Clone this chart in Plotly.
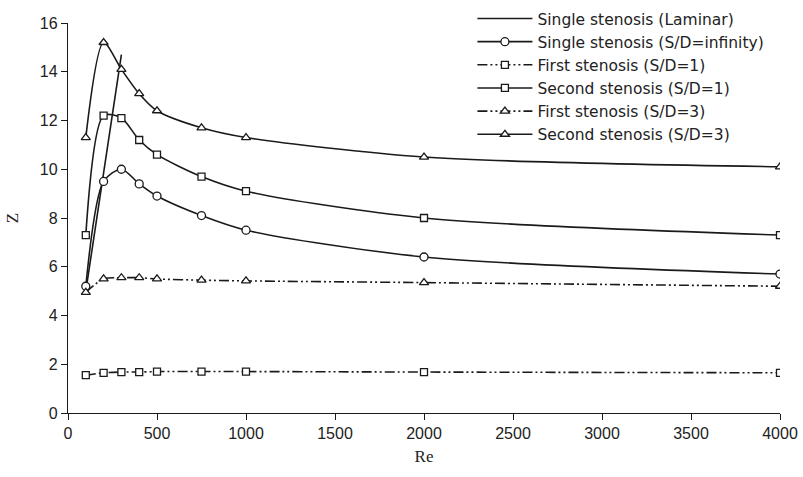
import plotly.graph_objects as go

# Reynolds numbers at which Z was evaluated
re_vals = [100, 200, 300, 400, 500, 750, 1000, 2000, 4000]

# Laminar single stenosis (only low Re)
re_laminar = [100, 200, 300]
z_laminar = [5.0, 9.8, 14.7]

z_single_inf = [5.2, 9.5, 10.0, 9.4, 8.9, 8.1, 7.5, 6.4, 5.7]
z_first_sd1 = [1.55, 1.65, 1.68, 1.68, 1.7, 1.7, 1.7, 1.68, 1.65]
z_second_sd1 = [7.3, 12.2, 12.1, 11.2, 10.6, 9.7, 9.1, 8.0, 7.3]
z_first_sd3 = [4.95, 5.5, 5.55, 5.55, 5.5, 5.45, 5.42, 5.35, 5.2]
z_second_sd3 = [11.3, 15.2, 14.1, 13.1, 12.4, 11.7, 11.3, 10.5, 10.1]

x_ticks = [0, 500, 1000, 1500, 2000, 2500, 3000, 3500, 4000]
y_ticks = [0, 2, 4, 6, 8, 10, 12, 14, 16]

BLACK = "#1a1a1a"
DASHDOT2 = "10px,3px,2px,3px,2px,3px"

def mk(symbol, size):
    return dict(symbol=symbol, size=size, color="white",
                line=dict(color=BLACK, width=1.3))

fig = go.Figure()

fig.add_trace(go.Scatter(
    x=re_laminar, y=z_laminar, mode="lines",
    name="Single stenosis (Laminar)",
    line=dict(color=BLACK, width=1.6)))

fig.add_trace(go.Scatter(
    x=re_vals, y=z_single_inf, mode="lines+markers",
    name="Single stenosis (S/D=infinity)",
    line=dict(color=BLACK, width=1.6, shape="spline", smoothing=0.8),
    marker=mk("circle", 8)))

fig.add_trace(go.Scatter(
    x=re_vals, y=z_first_sd1, mode="lines+markers",
    name="First stenosis (S/D=1)",
    line=dict(color=BLACK, width=1.6, dash=DASHDOT2, shape="spline", smoothing=0.8),
    marker=mk("square", 7)))

fig.add_trace(go.Scatter(
    x=re_vals, y=z_second_sd1, mode="lines+markers",
    name="Second stenosis (S/D=1)",
    line=dict(color=BLACK, width=1.6, shape="spline", smoothing=0.8),
    marker=mk("square", 7)))

fig.add_trace(go.Scatter(
    x=re_vals, y=z_first_sd3, mode="lines+markers",
    name="First stenosis (S/D=3)",
    line=dict(color=BLACK, width=1.6, dash=DASHDOT2, shape="spline", smoothing=0.8),
    marker=mk("triangle-up", 8)))

fig.add_trace(go.Scatter(
    x=re_vals, y=z_second_sd3, mode="lines+markers",
    name="Second stenosis (S/D=3)",
    line=dict(color=BLACK, width=1.6, shape="spline", smoothing=0.8),
    marker=mk("triangle-up", 8)))

fig.update_layout(
    width=803, height=477,
    margin=dict(l=68, r=23, t=23, b=64, autoexpand=False),
    paper_bgcolor="white", plot_bgcolor="white",
    font=dict(family="Liberation Sans, Arial, sans-serif", size=16, color="#222"),
    showlegend=True,
    legend=dict(
        x=0.568, y=1.054, xanchor="left", yanchor="top",
        bgcolor="rgba(255,255,255,0)", borderwidth=0,
        font=dict(family="DejaVu Sans, sans-serif", size=15.5, color="#222"),
        itemwidth=55, tracegroupgap=0,
    ),
)

fig.update_xaxes(
    range=[0, 4000], tickvals=x_ticks, ticktext=[str(v) for v in x_ticks],
    showgrid=False, zeroline=False,
    showline=True, linecolor=BLACK, linewidth=1.3,
    ticks="outside", ticklen=6, tickcolor=BLACK, tickwidth=1.3,
    tickfont=dict(size=16),
    title=dict(text="Re", font=dict(family="Liberation Serif, Times New Roman, serif", size=17, color="#222"),
               standoff=8),
)
fig.update_yaxes(
    range=[0, 16], tickvals=y_ticks, ticktext=[str(v) for v in y_ticks],
    showgrid=False, zeroline=False,
    showline=True, linecolor=BLACK, linewidth=1.3,
    ticks="outside", ticklen=6, tickcolor=BLACK, tickwidth=1.3,
    tickfont=dict(size=16),
    title=dict(text="Z", font=dict(family="Liberation Serif, Times New Roman, serif", size=17, color="#222"),
               standoff=16),
)

fig.write_html("out.html")
